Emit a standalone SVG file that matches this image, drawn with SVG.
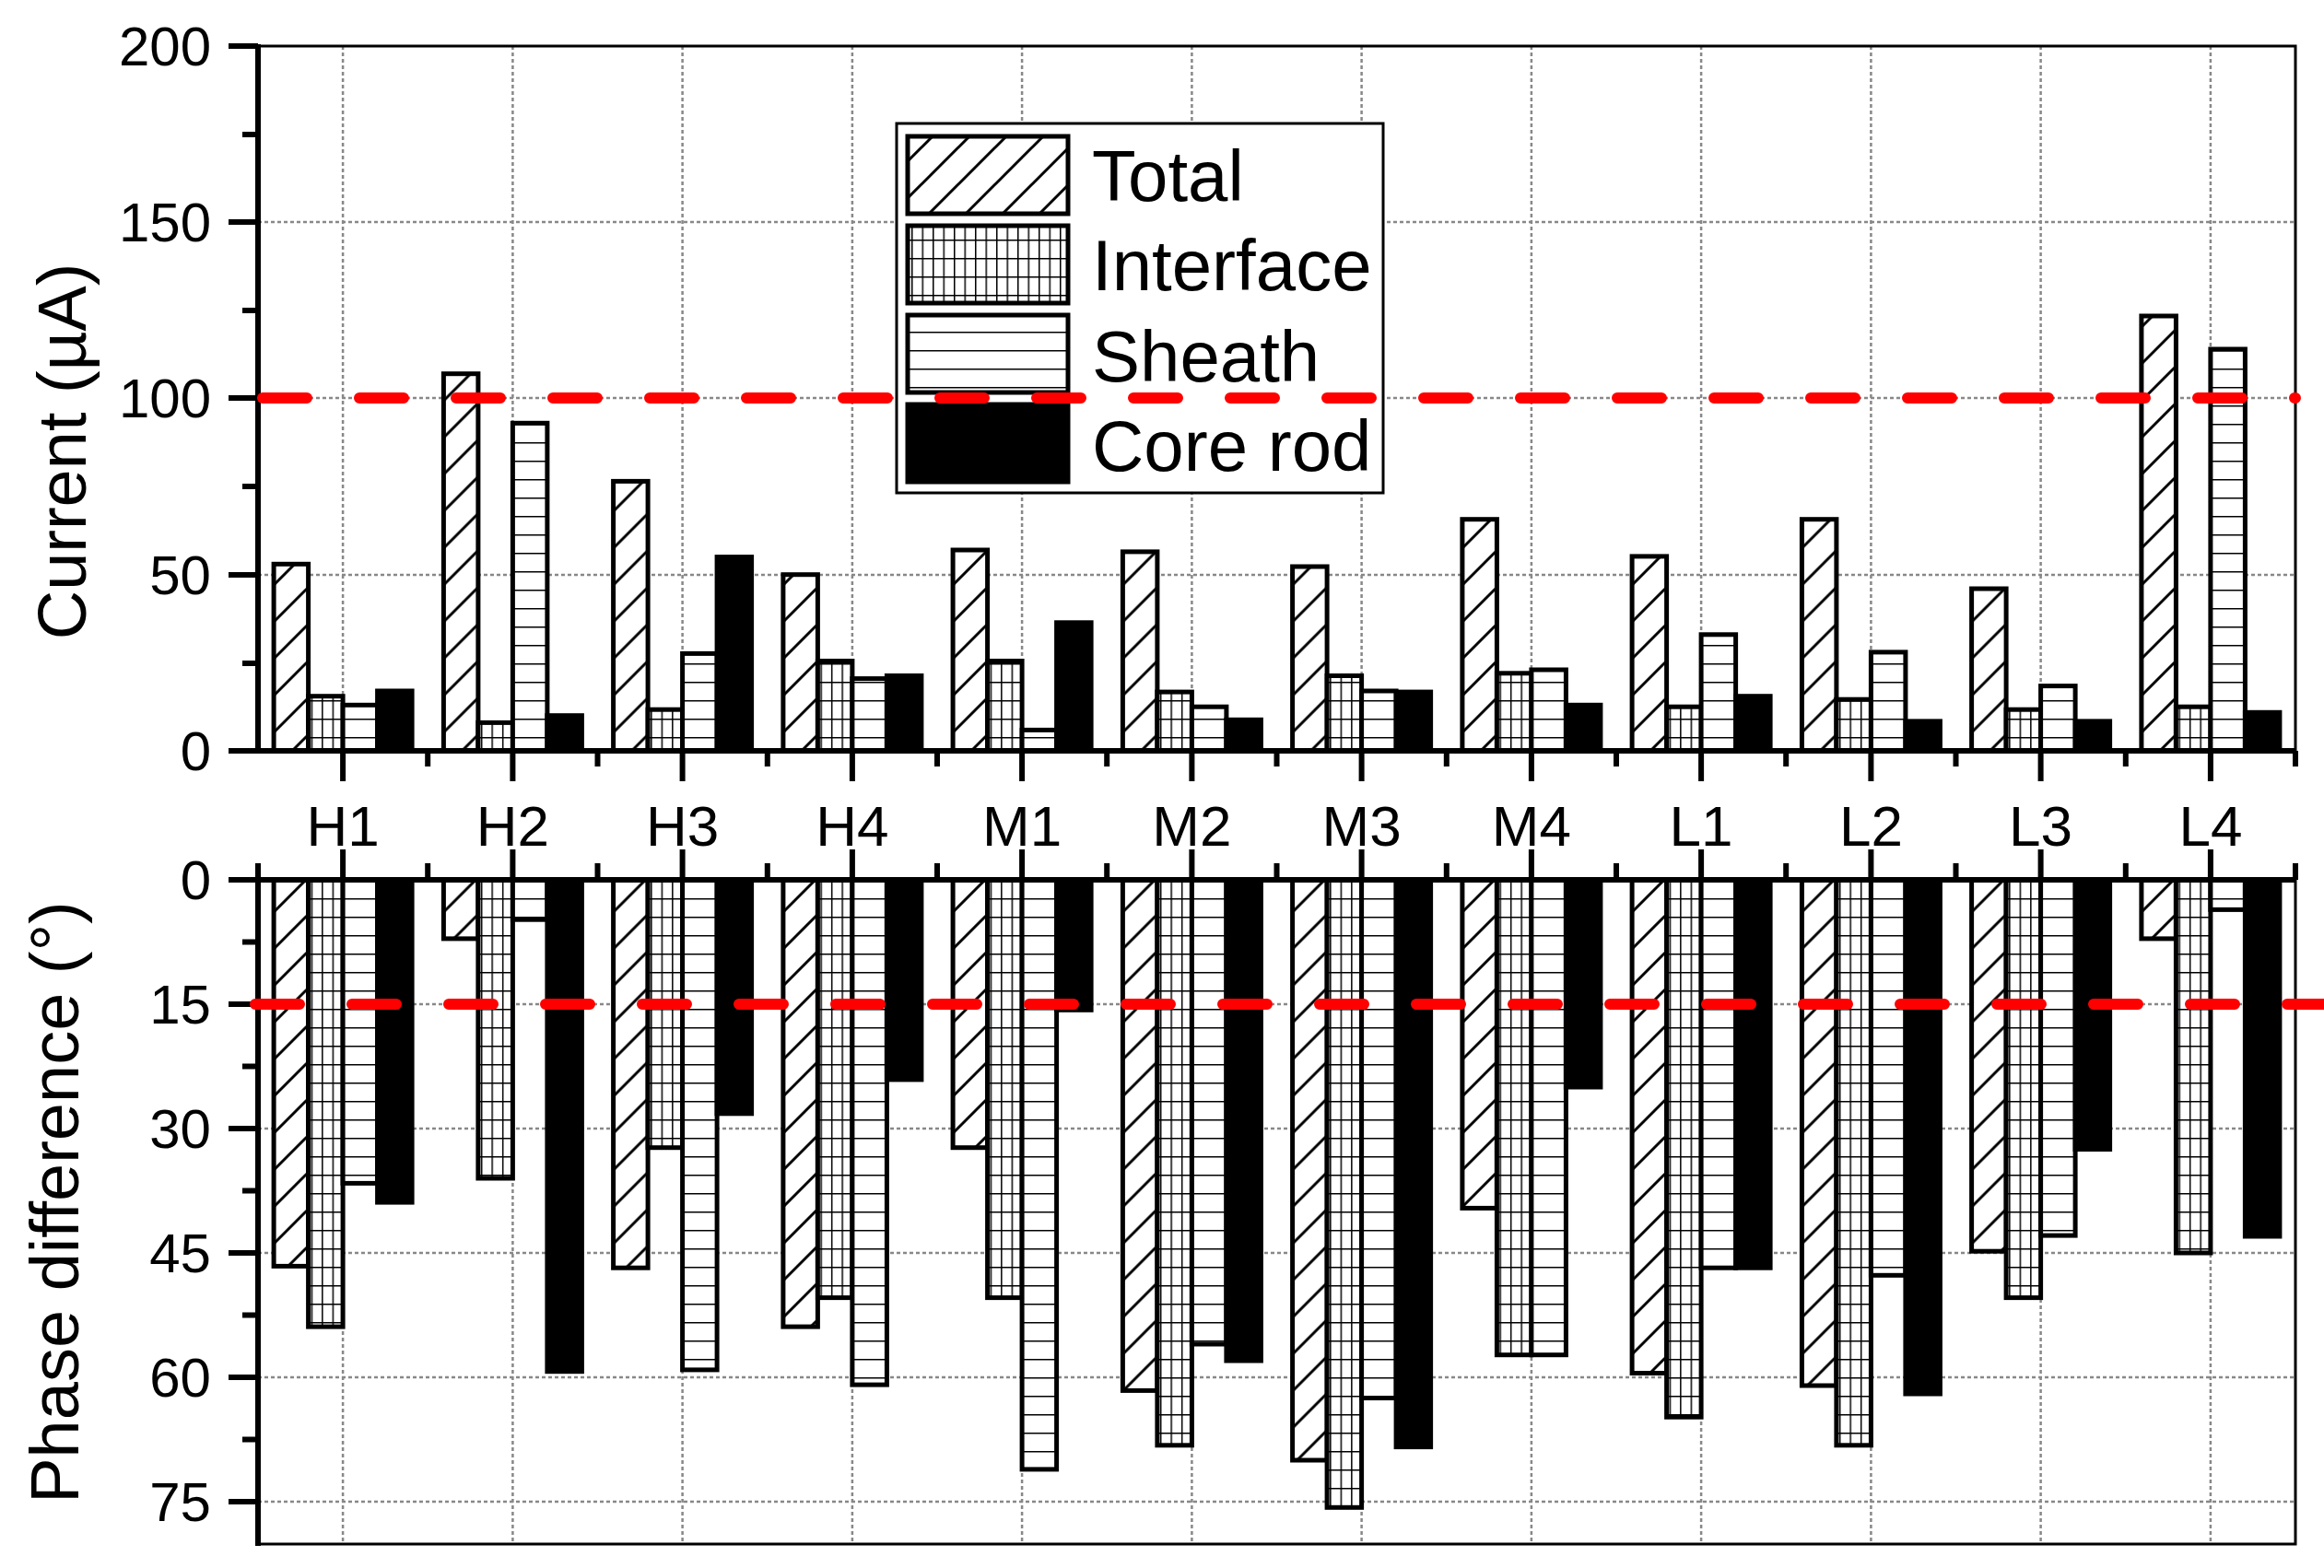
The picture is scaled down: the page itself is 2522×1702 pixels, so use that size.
<svg xmlns="http://www.w3.org/2000/svg" width="2522" height="1702" viewBox="0 0 2522 1702">
<style>
.t{font-family:"Liberation Sans",Arial,sans-serif;fill:#000}
.tk{font-size:60px;text-anchor:end}
.cat{font-size:62px;text-anchor:middle}
.ttl{font-size:74px;text-anchor:middle}
.lg{font-size:78px}
.grid{stroke:#888;stroke-width:2.5;stroke-dasharray:4 3;fill:none}
.ax{stroke:#000;stroke-width:6;fill:none}
.thin{stroke:#000;stroke-width:3;fill:none}
.b{stroke:#000;stroke-width:5}
.a{fill:url(#diag)}.i{fill:url(#grid)}.s{fill:url(#hor)}.c{fill:#000}
.red{stroke:#f00;stroke-width:12;stroke-linecap:round;stroke-dasharray:48 57;fill:none}
</style>
<defs>
<pattern id="diag" patternUnits="userSpaceOnUse" width="40" height="40"><rect width="40" height="40" fill="#fff"/><path d="M-10 10L10 -10M0 40L40 0M30 50L50 30" stroke="#000" stroke-width="3"/></pattern>
<pattern id="grid" patternUnits="userSpaceOnUse" width="11.5" height="20"><rect width="11.5" height="20" fill="#fff"/><path d="M0 0H11.5M0 0V20" stroke="#000" stroke-width="3"/></pattern>
<pattern id="hor" patternUnits="userSpaceOnUse" width="20" height="20"><rect width="20" height="20" fill="#fff"/><path d="M0 0H20" stroke="#000" stroke-width="3"/></pattern>
</defs>
<rect width="2522" height="1702" fill="#fff"/>
<g id="gridlines" class="grid">
<path d="M280 624H2491M280 432H2491M280 241H2491"/>
<path d="M280 1090H2491M280 1225H2491M280 1360H2491M280 1495H2491M280 1630H2491"/>
<path d="M372.1 50V815M556.4 50V815M740.6 50V815M924.9 50V815M1109.1 50V815M1293.4 50V815M1477.6 50V815M1661.9 50V815M1846.1 50V815M2030.4 50V815M2214.6 50V815M2398.9 50V815"/>
<path d="M372.1 955V1676M556.4 955V1676M740.6 955V1676M924.9 955V1676M1109.1 955V1676M1293.4 955V1676M1477.6 955V1676M1661.9 955V1676M1846.1 955V1676M2030.4 955V1676M2214.6 955V1676M2398.9 955V1676"/>
</g>
<g id="bars-current" class="b">
<g transform="translate(372.1,0)"><rect class="a" x="-75" y="612.3" width="37.5" height="202.7"/><rect class="i" x="-37.5" y="755.7" width="37.5" height="59.3"/><rect class="s" x="0" y="765.3" width="37.5" height="49.7"/><rect class="c" x="37.5" y="750" width="37.5" height="65"/></g>
<g transform="translate(556.4,0)"><rect class="a" x="-75" y="405.7" width="37.5" height="409.3"/><rect class="i" x="-37.5" y="784.4" width="37.5" height="30.6"/><rect class="s" x="0" y="459.3" width="37.5" height="355.7"/><rect class="c" x="37.5" y="776.7" width="37.5" height="38.3"/></g>
<g transform="translate(740.6,0)"><rect class="a" x="-75" y="522.4" width="37.5" height="292.6"/><rect class="i" x="-37.5" y="770.2" width="37.5" height="44.8"/><rect class="s" x="0" y="709.4" width="37.5" height="105.6"/><rect class="c" x="37.5" y="604.6" width="37.5" height="210.4"/></g>
<g transform="translate(924.9,0)"><rect class="a" x="-75" y="623.7" width="37.5" height="191.3"/><rect class="i" x="-37.5" y="717.5" width="37.5" height="97.5"/><rect class="s" x="0" y="736.6" width="37.5" height="78.4"/><rect class="c" x="37.5" y="733.5" width="37.5" height="81.5"/></g>
<g transform="translate(1109.1,0)"><rect class="a" x="-75" y="597" width="37.5" height="218"/><rect class="i" x="-37.5" y="717.5" width="37.5" height="97.5"/><rect class="s" x="0" y="792.4" width="37.5" height="22.6"/><rect class="c" x="37.5" y="675.8" width="37.5" height="139.2"/></g>
<g transform="translate(1293.4,0)"><rect class="a" x="-75" y="598.9" width="37.5" height="216.1"/><rect class="i" x="-37.5" y="751.1" width="37.5" height="63.9"/><rect class="s" x="0" y="767.2" width="37.5" height="47.8"/><rect class="c" x="37.5" y="781.3" width="37.5" height="33.7"/></g>
<g transform="translate(1477.6,0)"><rect class="a" x="-75" y="615" width="37.5" height="200"/><rect class="i" x="-37.5" y="733.5" width="37.5" height="81.5"/><rect class="s" x="0" y="750" width="37.5" height="65"/><rect class="c" x="37.5" y="751.1" width="37.5" height="63.9"/></g>
<g transform="translate(1661.9,0)"><rect class="a" x="-75" y="563.7" width="37.5" height="251.3"/><rect class="i" x="-37.5" y="730.8" width="37.5" height="84.2"/><rect class="s" x="0" y="727" width="37.5" height="88"/><rect class="c" x="37.5" y="765.3" width="37.5" height="49.7"/></g>
<g transform="translate(1846.1,0)"><rect class="a" x="-75" y="603.9" width="37.5" height="211.1"/><rect class="i" x="-37.5" y="767.2" width="37.5" height="47.8"/><rect class="s" x="0" y="688.8" width="37.5" height="126.2"/><rect class="c" x="37.5" y="755.7" width="37.5" height="59.3"/></g>
<g transform="translate(2030.4,0)"><rect class="a" x="-75" y="563.7" width="37.5" height="251.3"/><rect class="i" x="-37.5" y="759.2" width="37.5" height="55.8"/><rect class="s" x="0" y="707.9" width="37.5" height="107.1"/><rect class="c" x="37.5" y="782.9" width="37.5" height="32.1"/></g>
<g transform="translate(2214.6,0)"><rect class="a" x="-75" y="639" width="37.5" height="176"/><rect class="i" x="-37.5" y="770.2" width="37.5" height="44.8"/><rect class="s" x="0" y="744.6" width="37.5" height="70.4"/><rect class="c" x="37.5" y="782.9" width="37.5" height="32.1"/></g>
<g transform="translate(2398.9,0)"><rect class="a" x="-75" y="343" width="37.5" height="472"/><rect class="i" x="-37.5" y="767.2" width="37.5" height="47.8"/><rect class="s" x="0" y="379" width="37.5" height="436"/><rect class="c" x="37.5" y="773.3" width="37.5" height="41.7"/></g>
</g>
<g id="bars-phase" class="b">
<g transform="translate(372.1,955)"><rect class="a" x="-75" y="0" width="37.5" height="419.4"/><rect class="i" x="-37.5" y="0" width="37.5" height="485.1"/><rect class="s" x="0" y="0" width="37.5" height="329.4"/><rect class="c" x="37.5" y="0" width="37.5" height="350.1"/></g>
<g transform="translate(556.4,955)"><rect class="a" x="-75" y="0" width="37.5" height="63.9"/><rect class="i" x="-37.5" y="0" width="37.5" height="324"/><rect class="s" x="0" y="0" width="37.5" height="43.2"/><rect class="c" x="37.5" y="0" width="37.5" height="533.7"/></g>
<g transform="translate(740.6,955)"><rect class="a" x="-75" y="0" width="37.5" height="421.2"/><rect class="i" x="-37.5" y="0" width="37.5" height="290.7"/><rect class="s" x="0" y="0" width="37.5" height="531.9"/><rect class="c" x="37.5" y="0" width="37.5" height="253.8"/></g>
<g transform="translate(924.9,955)"><rect class="a" x="-75" y="0" width="37.5" height="485.1"/><rect class="i" x="-37.5" y="0" width="37.5" height="453.6"/><rect class="s" x="0" y="0" width="37.5" height="548.1"/><rect class="c" x="37.5" y="0" width="37.5" height="216.9"/></g>
<g transform="translate(1109.1,955)"><rect class="a" x="-75" y="0" width="37.5" height="290.7"/><rect class="i" x="-37.5" y="0" width="37.5" height="453.6"/><rect class="s" x="0" y="0" width="37.5" height="639.9"/><rect class="c" x="37.5" y="0" width="37.5" height="141.3"/></g>
<g transform="translate(1293.4,955)"><rect class="a" x="-75" y="0" width="37.5" height="554.4"/><rect class="i" x="-37.5" y="0" width="37.5" height="613.8"/><rect class="s" x="0" y="0" width="37.5" height="504"/><rect class="c" x="37.5" y="0" width="37.5" height="522"/></g>
<g transform="translate(1477.6,955)"><rect class="a" x="-75" y="0" width="37.5" height="630"/><rect class="i" x="-37.5" y="0" width="37.5" height="681.3"/><rect class="s" x="0" y="0" width="37.5" height="562.5"/><rect class="c" x="37.5" y="0" width="37.5" height="615.6"/></g>
<g transform="translate(1661.9,955)"><rect class="a" x="-75" y="0" width="37.5" height="356.4"/><rect class="i" x="-37.5" y="0" width="37.5" height="515.7"/><rect class="s" x="0" y="0" width="37.5" height="515.7"/><rect class="c" x="37.5" y="0" width="37.5" height="225"/></g>
<g transform="translate(1846.1,955)"><rect class="a" x="-75" y="0" width="37.5" height="535.5"/><rect class="i" x="-37.5" y="0" width="37.5" height="583.2"/><rect class="s" x="0" y="0" width="37.5" height="421.2"/><rect class="c" x="37.5" y="0" width="37.5" height="421.2"/></g>
<g transform="translate(2030.4,955)"><rect class="a" x="-75" y="0" width="37.5" height="549"/><rect class="i" x="-37.5" y="0" width="37.5" height="613.8"/><rect class="s" x="0" y="0" width="37.5" height="429.3"/><rect class="c" x="37.5" y="0" width="37.5" height="558"/></g>
<g transform="translate(2214.6,955)"><rect class="a" x="-75" y="0" width="37.5" height="403.2"/><rect class="i" x="-37.5" y="0" width="37.5" height="453.6"/><rect class="s" x="0" y="0" width="37.5" height="386.1"/><rect class="c" x="37.5" y="0" width="37.5" height="292.5"/></g>
<g transform="translate(2398.9,955)"><rect class="a" x="-75" y="0" width="37.5" height="63.9"/><rect class="i" x="-37.5" y="0" width="37.5" height="405"/><rect class="s" x="0" y="0" width="37.5" height="32.4"/><rect class="c" x="37.5" y="0" width="37.5" height="387"/></g>
</g>
<g id="axes">
<path class="thin" d="M280 50H2491V815M2491 955V1676H280"/>
<path class="ax" d="M280 48V815H2491M280 955V1678M280 955H2491"/>
<path class="ax" d="M248 50H280M263 146H280M248 241H280M263 337H280M248 432H280M263 528H280M248 624H280M263 720H280M248 815H280"/>
<path class="ax" d="M248 955H280M263 1022.5H280M248 1090H280M263 1157.5H280M248 1225H280M263 1292.5H280M248 1360H280M263 1427.5H280M248 1495H280M263 1562.5H280M248 1630H280"/>
<path class="ax" d="M372.1 815V848M556.4 815V848M740.6 815V848M924.9 815V848M1109.1 815V848M1293.4 815V848M1477.6 815V848M1661.9 815V848M1846.1 815V848M2030.4 815V848M2214.6 815V848M2398.9 815V848M464.2 815V832M648.5 815V832M832.8 815V832M1017 815V832M1201.2 815V832M1385.5 815V832M1569.8 815V832M1754 815V832M1938.2 815V832M2122.5 815V832M2306.8 815V832M2491 815V832"/>
<path class="ax" d="M372.1 955V922M556.4 955V922M740.6 955V922M924.9 955V922M1109.1 955V922M1293.4 955V922M1477.6 955V922M1661.9 955V922M1846.1 955V922M2030.4 955V922M2214.6 955V922M2398.9 955V922M280 955V937M464.2 955V937M648.5 955V937M832.8 955V937M1017 955V937M1201.2 955V937M1385.5 955V937M1569.8 955V937M1754 955V937M1938.2 955V937M2122.5 955V937M2306.8 955V937M2491 955V937"/>
</g>
<g id="labels" class="t">
<text class="tk" x="229" y="71">200</text><text class="tk" x="229" y="262">150</text><text class="tk" x="229" y="453">100</text><text class="tk" x="229" y="645">50</text><text class="tk" x="229" y="836">0</text>
<text class="tk" x="229" y="976">0</text><text class="tk" x="229" y="1111">15</text><text class="tk" x="229" y="1246">30</text><text class="tk" x="229" y="1381">45</text><text class="tk" x="229" y="1516">60</text><text class="tk" x="229" y="1651">75</text>
<text class="cat" x="372.1" y="918">H1</text><text class="cat" x="556.4" y="918">H2</text><text class="cat" x="740.6" y="918">H3</text><text class="cat" x="924.9" y="918">H4</text><text class="cat" x="1109.1" y="918">M1</text><text class="cat" x="1293.4" y="918">M2</text><text class="cat" x="1477.6" y="918">M3</text><text class="cat" x="1661.9" y="918">M4</text><text class="cat" x="1846.1" y="918">L1</text><text class="cat" x="2030.4" y="918">L2</text><text class="cat" x="2214.6" y="918">L3</text><text class="cat" x="2398.9" y="918">L4</text>
<text class="ttl" transform="translate(93,490) rotate(-90)">Current (µA)</text>
<text class="ttl" transform="translate(85,1305) rotate(-90)">Phase difference (°)</text>
</g>
<g id="legend">
<rect x="973" y="134" width="528" height="401" fill="#fff" stroke="#000" stroke-width="3"/>
<rect class="b a" x="985" y="148" width="174" height="84"/>
<rect class="b i" x="985" y="245" width="174" height="84"/>
<rect class="b s" x="985" y="342" width="174" height="84"/>
<rect class="b c" x="985" y="439" width="174" height="84"/>
<text class="t lg" x="1185" y="218">Total</text>
<text class="t lg" x="1185" y="315">Interface</text>
<text class="t lg" x="1185" y="414">Sheath</text>
<text class="t lg" x="1185" y="511">Core rod</text>
</g>
<g id="thresholds">
<path class="red" d="M285 432H2491"/>
<path class="red" d="M277 1090H2522"/>
</g>
</svg>
